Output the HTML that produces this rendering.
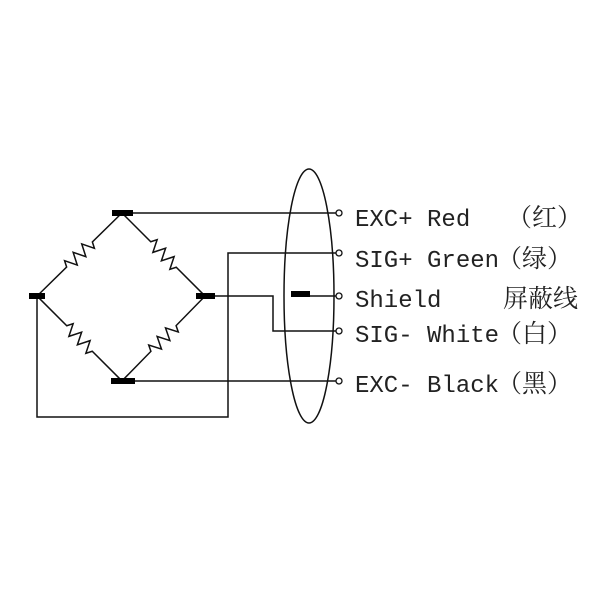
<!DOCTYPE html>
<html><head><style>html,body{margin:0;padding:0;background:#fff;width:600px;height:600px;overflow:hidden}</style></head>
<body>
<svg width="600" height="600" viewBox="0 0 600 600" xmlns="http://www.w3.org/2000/svg">
<defs>
<path id="res" d="M-59.5,0 L-18,0 L-15,-6 L-9,6 L-3,-6 L3,6 L9,-6 L15,6 L18,0 L59.5,0"/>
</defs>
<g stroke="#111" stroke-width="1.5" fill="none">
<use href="#res" transform="translate(79.5,254.5) rotate(135.6)"/>
<use href="#res" transform="translate(163.5,254.5) rotate(45)"/>
<use href="#res" transform="translate(79.5,338.5) rotate(45)"/>
<use href="#res" transform="translate(163.5,338.5) rotate(-45.6)"/>
<!-- wires -->
<polyline points="133,213 336,213"/>
<polyline points="336,253 228,253 228,417 37,417 37,296"/>
<polyline points="215,296 273,296 273,331 336,331"/>
<polyline points="310,296 336,296"/>
<polyline points="135,381 336,381"/>
<ellipse cx="309" cy="296" rx="25" ry="127"/>
</g>
<g fill="#fff" stroke="#111" stroke-width="1.3">
<circle cx="339" cy="213" r="3"/><circle cx="339" cy="253" r="3"/><circle cx="339" cy="296" r="3"/><circle cx="339" cy="331" r="3"/><circle cx="339" cy="381" r="3"/>
</g>
<g fill="#000">
<rect x="112" y="210" width="21" height="6"/>
<rect x="29" y="293" width="16" height="6"/>
<rect x="196" y="293" width="19" height="6"/>
<rect x="111" y="378" width="24" height="6"/>
<rect x="291" y="291" width="19" height="6"/>
</g>
<g fill="#222" font-family="'Liberation Mono','Noto Serif CJK SC',monospace" font-size="24">
<text x="355" y="226">EXC+ Red</text>
<text x="355" y="267">SIG+ Green</text>
<text x="355" y="307">Shield</text>
<text x="355" y="342">SIG- White</text>
<text x="355" y="392">EXC- Black</text>
</g>
<g fill="#222" font-family="'Noto Serif CJK SC','Noto Sans CJK SC',serif" font-size="25">
<text x="507" y="226">（红）</text>
<text x="497" y="267">（绿）</text>
<text x="503" y="307">屏蔽线</text>
<text x="497" y="342">（白）</text>
<text x="497" y="392">（黑）</text>
</g>
</svg>
</body></html>
